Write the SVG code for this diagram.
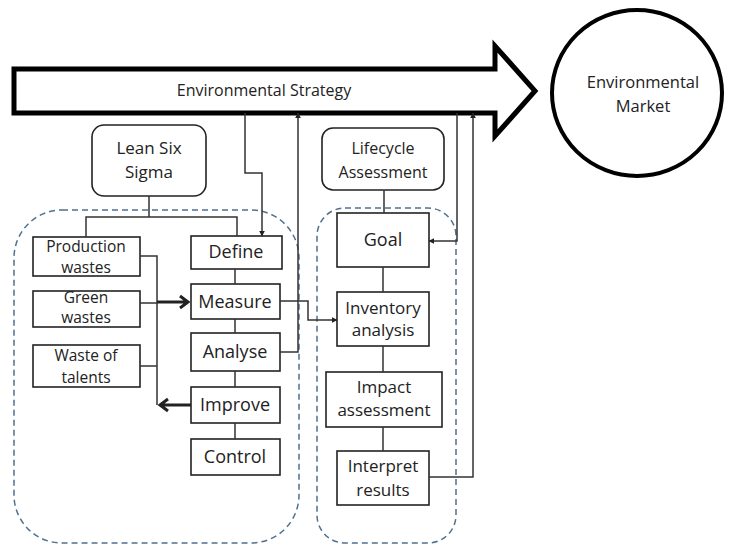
<svg xmlns="http://www.w3.org/2000/svg" width="729" height="545" viewBox="0 0 729 545">
<style>
.box{fill:#fff;stroke:#222;stroke-width:1.6}
.rbox{fill:#fff;stroke:#222;stroke-width:1.6}
.dash{fill:none;stroke:#50708f;stroke-width:1.5;stroke-dasharray:6 4}
.ln{fill:none;stroke:#333;stroke-width:1.5}
.thick{fill:none;stroke:#222;stroke-width:3}
text{font-family:"Open Sans","Liberation Sans",sans-serif;fill:#222;text-anchor:middle}
.t16{font-size:16px}
.t17{font-size:17px}
.t18{font-size:18px}
.tm{font-size:16.5px}
.t15{font-size:15.5px}
</style>
<defs>
<marker id="ah" viewBox="0 0 10 10" refX="9" refY="5" markerWidth="6" markerHeight="6" markerUnits="userSpaceOnUse" orient="auto">
<path d="M0,0 L10,5 L0,10 z" fill="#222"/>
</marker>
</defs>
<g id="containers">
<rect class="dash" x="14" y="210" width="285" height="333" rx="48"/>
<rect class="dash" x="317" y="208" width="139" height="335" rx="28"/>
</g>
<g id="strategy">
<polygon points="14,69 495,69 495,46 535,91 495,136 495,113 14,113" fill="#fff" stroke="#000" stroke-width="5" stroke-linejoin="miter"/>
<text class="t16" x="264" y="96">Environmental Strategy</text>
</g>
<g id="market">
<ellipse cx="637" cy="93" rx="85" ry="83" fill="#fff" stroke="#000" stroke-width="4"/>
<text class="tm" x="643" y="88">Environmental</text>
<text class="tm" x="643" y="112">Market</text>
</g>
<g id="lss">
<rect class="rbox" x="92" y="125" width="114" height="71" rx="12"/>
<text class="t17" x="149" y="154">Lean Six</text>
<text class="t17" x="149" y="178">Sigma</text>
</g>
<g id="prod">
<rect class="box" x="33" y="237" width="107" height="39"/>
<text class="t15" x="86" y="252">Production</text>
<text class="t15" x="86" y="273">wastes</text>
</g>
<g id="green">
<rect class="box" x="33" y="291" width="107" height="36"/>
<text class="t15" x="86" y="303">Green</text>
<text class="t15" x="86" y="323">wastes</text>
</g>
<g id="talents">
<rect class="box" x="33" y="345" width="107" height="42"/>
<text class="t15" x="86" y="361">Waste of</text>
<text class="t15" x="86" y="383">talents</text>
</g>
<g id="define">
<rect class="box" x="191" y="236" width="91" height="33"/>
<text class="t18" x="236" y="258">Define</text>
</g>
<g id="measure">
<rect class="box" x="191" y="284" width="89" height="35"/>
<text class="t18" x="235" y="308">Measure</text>
</g>
<g id="analyse">
<rect class="box" x="191" y="333" width="89" height="38"/>
<text class="t18" x="235" y="358">Analyse</text>
</g>
<g id="improve">
<rect class="box" x="191" y="387" width="89" height="36"/>
<text class="t18" x="235" y="411">Improve</text>
</g>
<g id="control">
<rect class="box" x="191" y="439" width="89" height="36"/>
<text class="t18" x="235" y="463">Control</text>
</g>
<g id="lca">
<rect class="rbox" x="322" y="128" width="122" height="62" rx="11"/>
<text class="t16" x="383" y="154">Lifecycle</text>
<text class="t16" x="383" y="178">Assessment</text>
</g>
<g id="goal">
<rect class="box" x="337" y="213" width="92" height="54"/>
<text class="t18" x="383" y="246">Goal</text>
</g>
<g id="inventory">
<rect class="box" x="337" y="292" width="92" height="54"/>
<text class="t17" x="383" y="314">Inventory</text>
<text class="t17" x="383" y="336">analysis</text>
</g>
<g id="impact">
<rect class="box" x="326" y="372" width="116" height="55"/>
<text class="t17" x="384" y="393">Impact</text>
<text class="t17" x="384" y="416">assessment</text>
</g>
<g id="interpret">
<rect class="box" x="337" y="451" width="92" height="54"/>
<text class="t17" x="383" y="472">Interpret</text>
<text class="t17" x="383" y="496">results</text>
</g>
<g id="connectors">
<path class="ln" d="M149,196 V217 M86,237 V217 H237 V236"/>
<path class="ln" d="M235,269 V284 M235,319 V333 M235,371 V387 M235,423 V439"/>
<path class="ln" d="M140,256 H157 V405 M140,303 H157 M140,366 H157"/>
<path class="thick" d="M157,302 H188 M180,296 L188,302 L180,308"/>
<path class="thick" d="M191,405 H160 M168,399 L160,405 L168,411"/>
<path class="ln" d="M245,113 V173 H262 V236" marker-end="url(#ah)"/>
<path class="ln" d="M280,352 H298 V113" marker-end="url(#ah)"/>
<path class="ln" d="M280,301 H308 V320 H337" marker-end="url(#ah)"/>
<path class="ln" d="M384,190 V213 M383,267 V292 M383,346 V372 M383,427 V451"/>
<path class="ln" d="M457,113 V241 H429" marker-end="url(#ah)"/>
<path class="ln" d="M429,477 H473 V113" marker-end="url(#ah)"/>
</g>
</svg>
